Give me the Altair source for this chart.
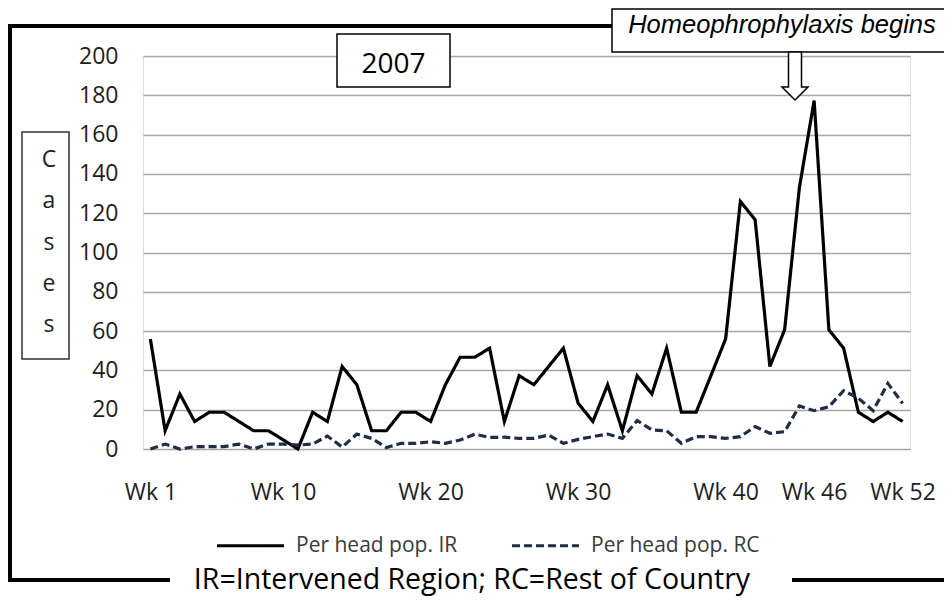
import altair as alt
import pandas as pd

# ---------------- data ----------------
weeks = list(range(1, 53))
ir_values = [56, 9.3, 28, 14, 18.7, 18.7, 14, 9.3, 9.3, 4.7,
             0, 18.7, 14, 42, 32.7, 9.3, 9.3, 18.7, 18.7, 14,
             32.7, 46.7, 46.7, 51.3, 14, 37.3, 32.7, 42, 51.3, 23.3,
             14, 32.7, 9.3, 37.3, 28, 51.3, 18.7, 18.7, 37.3, 56,
             126, 116.7, 42, 60.7, 133, 177.3, 60.7, 51.3, 18.7, 14,
             18.7, 14]
rc_values = [0, 2.5, 0, 1.2, 1.2, 1.2, 2.5, 0, 2.5, 2.5,
             2, 2.5, 6.6, 1, 7.6, 5.4, 0.7, 2.9, 2.9, 3.7,
             2.9, 4.6, 7.5, 5.9, 6, 5.4, 5.4, 7.1, 2.9, 4.9,
             6.3, 7.6, 5.4, 14.5, 9.7, 9.3, 2.9, 6.3, 6.3, 5.4,
             6.3, 11.4, 8, 8.8, 21.9, 19.5, 21.5, 29.7, 25.8, 19.5,
             33.4, 23.2]
series_names = ["Per head pop. IR", "Per head pop. RC"]
series_colors = ["#000000", "#1f2d46"]
series_dashes = [[1, 0], [8, 4]]
tick_weeks = [1, 10, 20, 30, 40, 46, 52]
y_ticks = list(range(0, 201, 20))
year_label = "2007"
annotation_label = "Homeophrophylaxis begins"
y_title_letters = ["C", "a", "s", "e", "s"]
footer_label = "IR=Intervened Region; RC=Rest of Country"

df = pd.DataFrame({
    "week": weeks * 2,
    "value": ir_values + rc_values,
    "series": [series_names[0]] * len(weeks) + [series_names[1]] * len(weeks),
})
one = pd.DataFrame({"k": [0]})

W, H = 767, 393
FONT = "Open Sans"
LABEL_COLOR = "#1e1e1e"

legend = alt.Legend(
    title=None, orient="none", legendX=72, legendY=454,
    direction="horizontal", symbolType="stroke", symbolSize=4489,
    symbolStrokeWidth=3.2, labelFont=FONT, labelFontSize=21,
    labelColor="#3a3a3a", labelOffset=10, columnPadding=47,
    padding=0, labelLimit=400,
)

lines = alt.Chart(df).mark_line(strokeWidth=3.2).encode(
    x=alt.X("week:Q",
            scale=alt.Scale(domain=[0.5, 52.5], nice=False, zero=False),
            axis=alt.Axis(values=tick_weeks, labelExpr="'Wk ' + datum.value",
                          title=None, grid=False, ticks=False, tickSize=0,
                          domain=False, labelPadding=32, labelFont=FONT,
                          labelFontSize=23, labelColor=LABEL_COLOR)),
    y=alt.Y("value:Q",
            scale=alt.Scale(domain=[0, 200], nice=False),
            axis=alt.Axis(values=y_ticks, title=None, grid=True,
                          gridColor="#a6a6a6", gridWidth=1.5, ticks=False,
                          tickSize=0, domain=False, labelPadding=25,
                          labelFont=FONT, labelFontSize=23,
                          labelColor=LABEL_COLOR)),
    color=alt.Color("series:N",
                    scale=alt.Scale(domain=series_names, range=series_colors),
                    legend=legend),
    strokeDash=alt.StrokeDash("series:N",
                              scale=alt.Scale(domain=series_names, range=series_dashes),
                              legend=legend),
)

# frame lines
frame_left = alt.Chart(one).mark_rule(color="black", strokeWidth=4, strokeCap="square").encode(
    x=alt.value(-133), y=alt.value(-30), y2=alt.value(524))
frame_top = alt.Chart(one).mark_rule(color="black", strokeWidth=4, strokeCap="square").encode(
    x=alt.value(-133), x2=alt.value(469), y=alt.value(-30))
frame_bottom_l = alt.Chart(one).mark_rule(color="black", strokeWidth=4, strokeCap="square").encode(
    x=alt.value(-133), x2=alt.value(25), y=alt.value(524))
frame_bottom_r = alt.Chart(one).mark_rule(color="black", strokeWidth=4).encode(
    x=alt.value(649), x2=alt.value(830), y=alt.value(524))

# 2007 box
year_box = alt.Chart(one).mark_rect(fill="white", stroke="black", strokeWidth=1.5).encode(
    x=alt.value(194), x2=alt.value(307), y=alt.value(-22), y2=alt.value(31))
year_text = alt.Chart(one).mark_text(text=year_label, font=FONT, fontSize=28,
                                     align="center", baseline="alphabetic",
                                     color="black").encode(
    x=alt.value(250.5), y=alt.value(17))

# annotation box + arrow
ann_box = alt.Chart(one).mark_rect(fill="white", stroke="black", strokeWidth=1.5).encode(
    x=alt.value(469), x2=alt.value(830), y=alt.value(-47), y2=alt.value(-4))
ann_text = alt.Chart(one).mark_text(text=annotation_label, font="Liberation Sans",
                                    fontStyle="italic", fontSize=25.5, align="center",
                                    baseline="alphabetic", color="black").encode(
    x=alt.value(639), y=alt.value(-23))
arrow_path = "M -0.26 -0.96 L 0.26 -0.96 L 0.26 0.44 L 0.52 0.44 L 0 0.96 L -0.52 0.44 L -0.26 0.44 Z"
arrow = alt.Chart(one).mark_point(shape=arrow_path, size=2500, filled=True, fill="white",
                                  stroke="black", strokeWidth=1.5, opacity=1).encode(
    x=alt.value(652), y=alt.value(20))

# "Cases" vertical title box
cases_box = alt.Chart(one).mark_rect(fill="white", stroke="#333333", strokeWidth=1.5).encode(
    x=alt.value(-121), x2=alt.value(-74), y=alt.value(76), y2=alt.value(303))
cases_text = alt.Chart(one).mark_text(text=y_title_letters, lineHeight=41.25, font=FONT,
                                      fontSize=23, align="center", baseline="middle",
                                      color=LABEL_COLOR).encode(
    x=alt.value(-94), y=alt.value(104))

# footer
footer = alt.Chart(one).mark_text(text=footer_label, font=FONT, fontSize=28.5,
                                  align="center", baseline="alphabetic",
                                  color="black").encode(
    x=alt.value(329), y=alt.value(533))

chart = alt.layer(
    lines, frame_left, frame_top, frame_bottom_l, frame_bottom_r,
    year_box, year_text, ann_box, ann_text, arrow,
    cases_box, cases_text, footer,
).properties(
    width=W, height=H,
    autosize=alt.AutoSizeParams(type="none"),
    padding={"left": 135, "top": 48, "right": 34, "bottom": 147},
).configure_view(stroke=None).configure(background="white")

chart.save("out.html", embed_options={"renderer": "svg", "actions": False})
